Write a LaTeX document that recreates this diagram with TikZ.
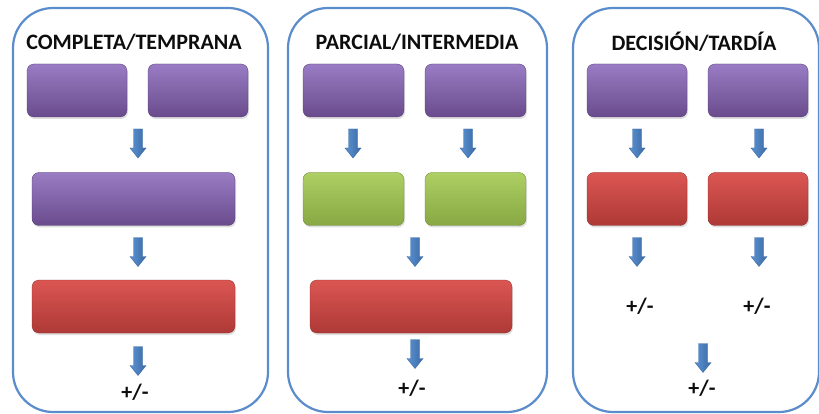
\documentclass[tikz,border=0pt]{standalone}
\usepackage{fontspec}
\setmainfont{Carlito}
\usetikzlibrary{shadows}
\definecolor{panelblue}{HTML}{5B8CCB}
\definecolor{purpletop}{HTML}{9A7CC4}
\definecolor{purplebot}{HTML}{694B8D}
\definecolor{redtop}{HTML}{DB5653}
\definecolor{redbot}{HTML}{AE3936}
\definecolor{greentop}{HTML}{ADCF63}
\definecolor{greenbot}{HTML}{87A843}
\definecolor{arrowlight}{HTML}{5C93D4}
\definecolor{arrowdark}{HTML}{3A69A3}
\definecolor{textink}{HTML}{0D0D0D}

\begin{document}
\begin{tikzpicture}[
  x=1pt,
  y=-1pt,
  every node/.style={textink},
  panel/.style={draw=panelblue, line width=2.2pt, rounded corners=40pt,
                fill=white, inner sep=0pt},
  heading/.style={font=\fontsize{22}{24}\selectfont\bfseries},
  sign/.style={font=\fontsize{22}{24}\selectfont\bfseries},
  box/.style={rounded corners=7pt, inner sep=0pt, minimum height=53pt,
              drop shadow={shadow xshift=1pt, shadow yshift=-2pt,
                           opacity=0.25}},
  purplebox/.style={box, top color=purpletop, bottom color=purplebot,
                    draw=purplebot!80!black, line width=0.3pt},
  redbox/.style={box, top color=redtop, bottom color=redbot,
                 draw=redbot!80!black, line width=0.3pt},
  greenbox/.style={box, top color=greentop, bottom color=greenbot,
                   draw=greenbot!80!black, line width=0.3pt},
  dnarrow/.pic={
    \shade[left color=arrowlight, right color=arrowdark,
           draw=arrowdark, line width=0.4pt]
      (-4.5,-14.5) -- (4.5,-14.5) -- (4.5,4.5) -- (8,4.5)
      -- (0,14.5) -- (-8,4.5) -- (-4.5,4.5) -- cycle;
  }
]
  \useasboundingbox (0,0) rectangle (819,414);

  % ---- the three panels ----
  \node[panel, minimum width=255, minimum height=404] (pnlA) at (140.5,210) {};
  \node[panel, minimum width=259, minimum height=404] (pnlB) at (417.5,210) {};
  \node[panel, minimum width=246, minimum height=404] (pnlC) at (696,210) {};

  % ---- headings ----
  \node[heading] (headA) at (134,42) {COMPLETA/TEMPRANA};
  \node[heading] (headB) at (417,42) {PARCIAL/INTERMEDIA};
  \node[heading] (headC) at (694,42) {DECISIÓN/TARDÍA};

  % ---- panel A: complete / early ----
  \node[purplebox, minimum width=100] (a1) at (77,90.5) {};
  \node[purplebox, minimum width=100] (a2) at (198,90.5) {};
  \pic at (138,143.5) {dnarrow};
  \node[purplebox, minimum width=203] (a3) at (133.5,199) {};
  \pic at (138,252) {dnarrow};
  \node[redbox, minimum width=203] (a4) at (133.5,306.5) {};
  \pic at (138,361) {dnarrow};
  \node[sign] (signA) at (135,392) {+/-};

  % ---- panel B: partial / intermediate ----
  \node[purplebox, minimum width=101] (b1) at (353.5,90.5) {};
  \node[purplebox, minimum width=101] (b2) at (475.5,90.5) {};
  \pic at (353,143.5) {dnarrow};
  \pic at (468,143.5) {dnarrow};
  \node[greenbox, minimum width=101] (b3) at (353.5,199) {};
  \node[greenbox, minimum width=101] (b4) at (475.5,199) {};
  \pic at (415,252) {dnarrow};
  \node[redbox, minimum width=202] (b5) at (411,306.5) {};
  \pic at (415,354) {dnarrow};
  \node[sign] (signB) at (412,388) {+/-};

  % ---- panel C: decision / late ----
  \node[purplebox, minimum width=100] (c1) at (637,90.5) {};
  \node[purplebox, minimum width=100] (c2) at (758,90.5) {};
  \pic at (637,143.5) {dnarrow};
  \pic at (759,143.5) {dnarrow};
  \node[redbox, minimum width=100] (c3) at (637,199) {};
  \node[redbox, minimum width=100] (c4) at (758,199) {};
  \pic at (637,252) {dnarrow};
  \pic at (759,252) {dnarrow};
  \node[sign] (signC1) at (640,306) {+/-};
  \node[sign] (signC2) at (757,306) {+/-};
  \pic at (703,358) {dnarrow};
  \node[sign] (signC3) at (702,388) {+/-};
\end{tikzpicture}
\end{document}
